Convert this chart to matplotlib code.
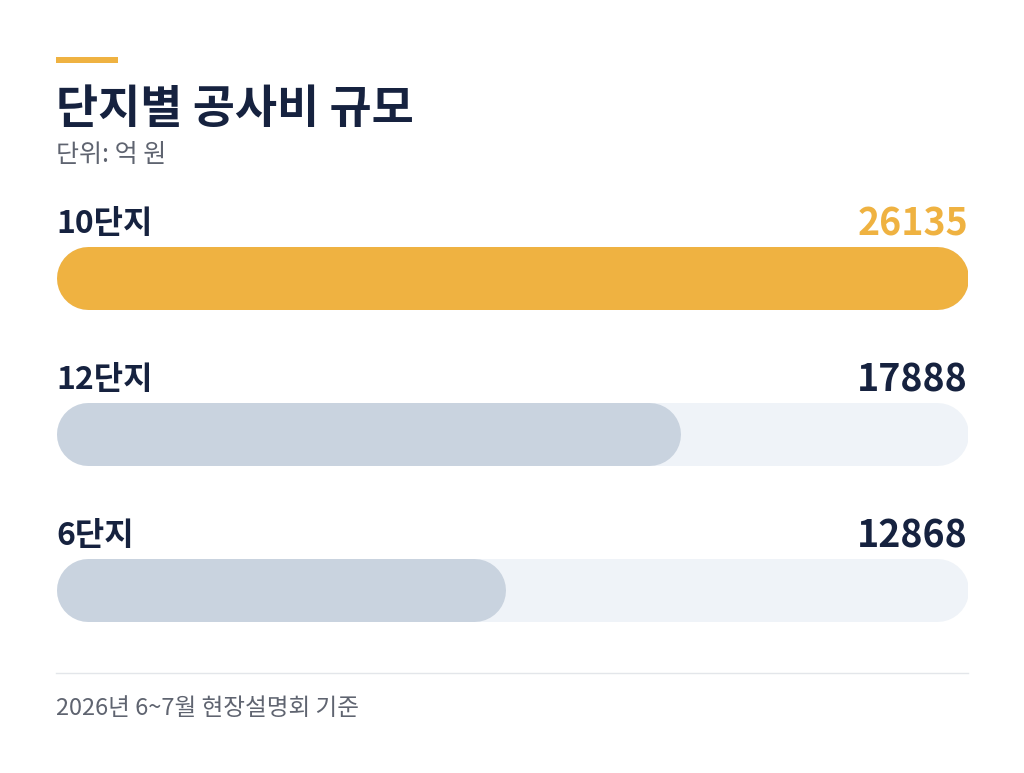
import matplotlib
matplotlib.use("Agg")
import matplotlib.pyplot as plt

plt.rcParams['font.family'] = ['Noto Sans CJK KR', 'DejaVu Sans']

title = "단지별 공사비 규모"
subtitle = "단위: 억 원"
footer = "2026년 6~7월 현장설명회 기준"
categories = ["10단지", "12단지", "6단지"]
values = [26135, 17888, 12868]
highlight = [True, False, False]

NAVY = "#16223F"
ORANGE = "#EFB241"
GRAY_BAR = "#C9D3DF"
TRACK = "#EFF3F8"
GRAY_TXT = "#5F6470"

W, H = 1024, 773
fig = plt.figure(figsize=(W / 100, H / 100), dpi=100)
fig.patch.set_facecolor("white")

def fy(px):
    return 1 - px / H

def fx(px):
    return px / W

# accent bar
fig.add_artist(plt.Line2D([fx(56), fx(118)], [fy(59.5), fy(59.5)], color=ORANGE, lw=6 * 0.72,
                          solid_capstyle="butt", transform=fig.transFigure))
fig.text(fx(56), fy(123), title, fontsize=33, fontweight="bold", color=NAVY, va="baseline", ha="left")
fig.text(fx(56), fy(162), subtitle, fontsize=18, color=GRAY_TXT, va="baseline", ha="left")

# bars axes
left_px, right_px = 56, 968
row_h = 156
top_px = 277.5 - row_h / 2
n = len(categories)
ax = fig.add_axes([fx(left_px), fy(top_px + n * row_h), (right_px - left_px) / W, n * row_h / H])
ax.set_axis_off()
vmax = max(values)
ax.set_xlim(0, vmax)
ax.set_ylim(n - 0.5, -0.5)

bar_px = 63
lw_pt = bar_px * 0.72
r_data = (bar_px / 2) * vmax / (right_px - left_px)
for i, (c, v, hl) in enumerate(zip(categories, values, highlight)):
    ax.plot([r_data, vmax - r_data], [i, i], color=TRACK, lw=lw_pt, solid_capstyle="round")
    ax.plot([r_data, v - r_data], [i, i], color=ORANGE if hl else GRAY_BAR, lw=lw_pt,
            solid_capstyle="round")
    ax.text(0, i - 44.5 / row_h, c, fontsize=23, fontweight="bold", color=NAVY,
            ha="left", va="baseline")
    ax.text(vmax, i - 42.5 / row_h, f"{v}", fontsize=27, fontweight="bold",
            color=ORANGE if hl else NAVY, ha="right", va="baseline")

# separator
fig.add_artist(plt.Line2D([fx(56), fx(968)], [fy(673), fy(673)], color="#E3E6EA", lw=1,
                          transform=fig.transFigure))
fig.text(fx(56), fy(715), footer, fontsize=17, color=GRAY_TXT, va="baseline", ha="left")

fig.savefig("out.png", dpi=100, facecolor="white")
